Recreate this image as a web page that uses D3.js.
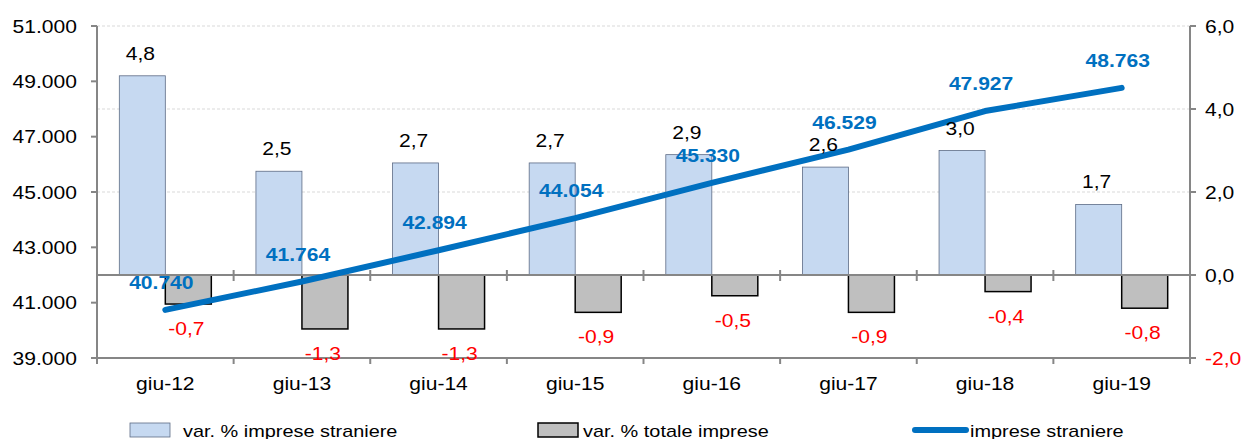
<!DOCTYPE html>
<html>
<head>
<meta charset="utf-8">
<script src="https://cdn.jsdelivr.net/npm/d3@7"></script>
<style>
  body { margin: 0; background: #fff; }
  text { font-family: "Liberation Sans", Arial, sans-serif; }
</style>
</head>
<body>
<script>
// data
var categories = ["giu-12", "giu-13", "giu-14", "giu-15", "giu-16", "giu-17", "giu-18", "giu-19"]
var varStraniere = [4.8, 2.5, 2.7, 2.7, 2.9, 2.6, 3.0, 1.7]
var varTotale = [-0.7, -1.3, -1.3, -0.9, -0.5, -0.9, -0.4, -0.8]
var impreseStraniere = [40740, 41764, 42894, 44054, 45330, 46529, 47927, 48763]
var leftTicks = [39000, 41000, 43000, 45000, 47000, 49000, 51000]
var rightTicks = [-2, 0, 2, 4, 6]

var width = 1245, height = 439
// plot box (window.top is reserved, so own names)
var plotLeft = 97, plotRight = 1190, plotTop = 26, plotBottom = 358
var stretch = 1.17 // the original text is a bit wider than plain Arial

var it = d3.formatLocale({decimal: ",", thousands: ".", grouping: [3], currency: ["€", ""], minus: "-"})
var fmtThousands = it.format(",.0f")
var fmtPct = it.format(".1f")

var svg = d3.select("body").append("svg")
	.attr("width", width)
	.attr("height", height)

var x = d3.scaleBand().domain(categories).range([plotLeft, plotRight])
var xInner = d3.scaleBand().domain([0, 1]).range([0, x.bandwidth()]).paddingOuter(0.485)
var yL = d3.scaleLinear().domain([39000, 51000]).range([plotBottom, plotTop])
var yR = d3.scaleLinear().domain([-2, 6]).range([plotBottom, plotTop])

function label(g, tx, ty, str) {
	return g.append("text")
		.attr("transform", "translate(" + tx + "," + ty + ") scale(" + stretch + ",1)")
		.text(str)
}

// gridlines (right axis)
svg.append("g").selectAll("line")
	.data(rightTicks.filter(function(d) { return d > 0 }))
	.join("line")
	.attr("x1", plotLeft).attr("x2", plotRight)
	.attr("y1", function(d) { return yR(d) }).attr("y2", function(d) { return yR(d) })
	.attr("stroke", "#d9d9d9")
	.attr("stroke-dasharray", "3,2")

// bars
var bars = svg.append("g")
bars.selectAll("rect.s")
	.data(varStraniere)
	.join("rect")
	.attr("class", "s")
	.attr("x", function(d, i) { return x(categories[i]) + xInner(0) })
	.attr("width", xInner.bandwidth())
	.attr("y", function(d) { return yR(Math.max(0, d)) })
	.attr("height", function(d) { return Math.abs(yR(d) - yR(0)) })
	.attr("fill", "#C6D9F1")
	.attr("stroke", "#5d6b85")
	.attr("stroke-width", 0.8)

bars.selectAll("rect.t")
	.data(varTotale)
	.join("rect")
	.attr("class", "t")
	.attr("x", function(d, i) { return x(categories[i]) + xInner(1) })
	.attr("width", xInner.bandwidth())
	.attr("y", function(d) { return yR(Math.max(0, d)) })
	.attr("height", function(d) { return Math.abs(yR(d) - yR(0)) })
	.attr("fill", "#BFBFBF")
	.attr("stroke", "#000")
	.attr("stroke-width", 1.5)

// axes
var axisColor = "#868686"
var ax = svg.append("g").attr("stroke", axisColor).attr("stroke-width", 2)
ax.append("line").attr("x1", plotLeft).attr("x2", plotLeft).attr("y1", plotTop).attr("y2", plotBottom)
ax.append("line").attr("x1", plotRight).attr("x2", plotRight).attr("y1", plotTop).attr("y2", plotBottom + 6)
ax.append("line").attr("x1", plotLeft).attr("x2", plotRight).attr("y1", yR(0)).attr("y2", yR(0))
ax.append("line").attr("x1", plotLeft).attr("x2", plotRight).attr("y1", plotBottom).attr("y2", plotBottom)

var bounds = categories.map(function(c) { return x(c) }).concat([plotRight])
ax.selectAll("line.zt").data(bounds).join("line").attr("class", "zt")
	.attr("x1", function(d) { return d }).attr("x2", function(d) { return d })
	.attr("y1", yR(0) - 5).attr("y2", yR(0) + 6)
ax.selectAll("line.bt").data(bounds).join("line").attr("class", "bt")
	.attr("x1", function(d) { return d }).attr("x2", function(d) { return d })
	.attr("y1", plotBottom).attr("y2", plotBottom + 6)
ax.selectAll("line.lt").data(leftTicks).join("line").attr("class", "lt")
	.attr("x1", plotLeft - 6).attr("x2", plotLeft)
	.attr("y1", function(d) { return yL(d) }).attr("y2", function(d) { return yL(d) })
ax.selectAll("line.rt").data(rightTicks).join("line").attr("class", "rt")
	.attr("x1", plotRight).attr("x2", plotRight + 6)
	.attr("y1", function(d) { return yR(d) }).attr("y2", function(d) { return yR(d) })

// tick labels
var tl = svg.append("g").attr("font-size", 18).attr("fill", "#000")
leftTicks.forEach(function(d) {
	label(tl, 77, yL(d) + 6.5, fmtThousands(d)).attr("text-anchor", "end")
})
rightTicks.forEach(function(d) {
	label(tl, 1205, yR(d) + 6.5, fmtPct(d)).attr("fill", d < 0 ? "#FF0000" : "#000")
})
categories.forEach(function(c) {
	label(tl, x(c) + x.bandwidth() / 2, 390, c).attr("text-anchor", "middle")
})

// line
var line = d3.line()
	.x(function(d, i) { return x(categories[i]) + x.bandwidth() / 2 })
	.y(function(d) { return yL(d) })
svg.append("path")
	.datum(impreseStraniere)
	.attr("d", line)
	.attr("fill", "none")
	.attr("stroke", "#0070C0")
	.attr("stroke-width", 6)
	.attr("stroke-linecap", "round")
	.attr("stroke-linejoin", "round")

// data labels
var dl = svg.append("g").attr("font-size", 18).attr("text-anchor", "middle")
varStraniere.forEach(function(d, i) {
	label(dl, x(categories[i]) + xInner(0) + xInner.bandwidth() / 2 - 2, yR(d) - 16, fmtPct(d)).attr("fill", "#000")
})
varTotale.forEach(function(d, i) {
	label(dl, x(categories[i]) + xInner(1) + xInner.bandwidth() / 2 - 2, yR(d) + 31, fmtPct(d)).attr("fill", "#FF0000")
})
impreseStraniere.forEach(function(d, i) {
	label(dl, x(categories[i]) + x.bandwidth() / 2 - 4, yL(d) - 21, fmtThousands(d))
		.attr("fill", "#0070C0")
		.attr("font-weight", "bold")
})

// legend
var lg = svg.append("g").attr("font-size", 17)
lg.append("rect").attr("x", 130).attr("y", 423).attr("width", 40).attr("height", 14)
	.attr("fill", "#C6D9F1").attr("stroke", "#5d6b85").attr("stroke-width", 0.8)
label(lg, 183, 437, "var. % imprese straniere")
lg.append("rect").attr("x", 538).attr("y", 423).attr("width", 40).attr("height", 14)
	.attr("fill", "#BFBFBF").attr("stroke", "#000").attr("stroke-width", 1.5)
label(lg, 583, 437, "var. % totale imprese")
lg.append("line").attr("x1", 915).attr("x2", 966).attr("y1", 430).attr("y2", 430)
	.attr("stroke", "#0070C0").attr("stroke-width", 6).attr("stroke-linecap", "round")
label(lg, 970, 437, "imprese straniere")
</script>
</body>
</html>
